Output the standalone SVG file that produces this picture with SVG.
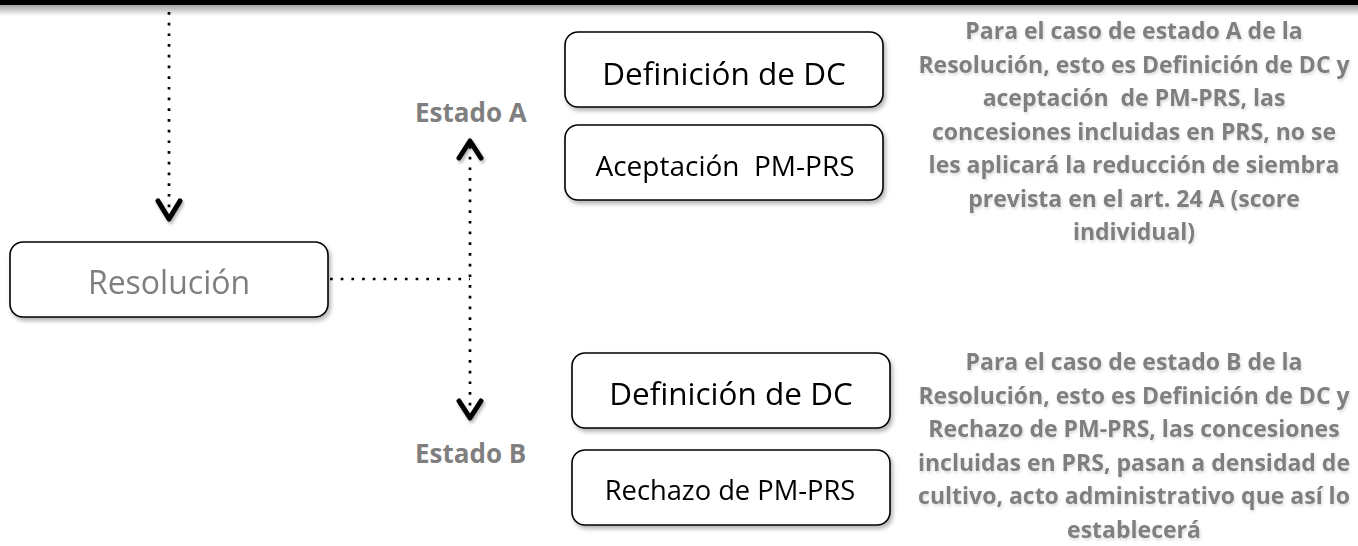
<svg xmlns="http://www.w3.org/2000/svg" width="1358" height="546" viewBox="0 0 1358 546">
<defs>
<filter id="sh" x="-10%" y="-20%" width="130%" height="160%">
<feDropShadow dx="2" dy="3" stdDeviation="2" flood-color="#000" flood-opacity="0.3"/>
</filter>
<filter id="tsh" x="-10%" y="-30%" width="130%" height="180%">
<feDropShadow dx="1.5" dy="2.5" stdDeviation="1.6" flood-color="#000" flood-opacity="0.3"/>
</filter>
<filter id="nsh" x="-5%" y="-10%" width="110%" height="120%">
<feDropShadow dx="1" dy="2" stdDeviation="1.5" flood-color="#000" flood-opacity="0.15"/>
</filter>
<linearGradient id="topg" x1="0" y1="0" x2="0" y2="1">
<stop offset="0" stop-color="#9a9a9a"/>
<stop offset="1" stop-color="#ffffff"/>
</linearGradient>
</defs>
<style>
.box{fill:#fff;stroke:#000;stroke-width:1.6;}
.bt{font-family:"Open Sans","DejaVu Sans",sans-serif;fill:#000;text-anchor:middle;white-space:pre;}
.gt{font-family:"Open Sans","DejaVu Sans",sans-serif;fill:#7f7f7f;}
.lbl{font-family:"Open Sans","DejaVu Sans",sans-serif;font-weight:bold;fill:#7f7f7f;font-size:26px;}
.note{font-family:"Open Sans","DejaVu Sans",sans-serif;font-weight:bold;fill:#7f7f7f;font-size:23px;text-anchor:middle;white-space:pre;}
.dot{fill:none;stroke:#000;stroke-width:2.7;stroke-dasharray:2.7 8;}
.arr{fill:none;stroke:#000;stroke-width:5;stroke-linecap:round;stroke-linejoin:round;}
</style>
<rect x="0" y="4" width="1358" height="12" fill="url(#topg)"/>
<rect x="0" y="0" width="1358" height="5" fill="#000"/>

<g id="connectors">
<line class="dot" x1="169" y1="12" x2="169" y2="214"/>
<polyline class="arr" points="158,201 169,219 180,201" filter="url(#tsh)"/>
<line class="dot" x1="330" y1="279" x2="470" y2="279"/>
<line class="dot" x1="470" y1="146" x2="470" y2="414"/>
<polyline class="arr" points="459,158 470,141 481,158" filter="url(#tsh)"/>
<polyline class="arr" points="459,401 470,418 481,401" filter="url(#tsh)"/>
</g>

<g id="resolucion" filter="url(#sh)">
<rect class="box" x="10" y="242" width="318" height="75" rx="13"/>
<text class="gt" x="169" y="294" font-size="32" text-anchor="middle">Resolución</text>
</g>

<g id="estadoA"><text class="lbl" x="415" y="122">Estado A</text></g>
<g id="estadoB"><text class="lbl" x="415" y="463">Estado B</text></g>

<g id="defA" filter="url(#sh)">
<rect class="box" x="565" y="32" width="318" height="75" rx="13"/>
<text class="bt" x="724" y="85" font-size="31.5">Definición de DC</text>
</g>
<g id="aceptacion" filter="url(#sh)">
<rect class="box" x="565" y="125" width="318" height="75" rx="13"/>
<text class="bt" x="725" y="176" font-size="28">Aceptación  PM-PRS</text>
</g>
<g id="defB" filter="url(#sh)">
<rect class="box" x="572" y="353" width="318" height="75" rx="13"/>
<text class="bt" x="731" y="405" font-size="31.5">Definición de DC</text>
</g>
<g id="rechazo" filter="url(#sh)">
<rect class="box" x="572" y="450" width="318" height="75" rx="13"/>
<text class="bt" x="730" y="500" font-size="27.3">Rechazo de PM-PRS</text>
</g>

<g id="notaA" filter="url(#nsh)">
<text class="note" x="1134" y="39">Para el caso de estado A de la</text>
<text class="note" x="1134" y="72.5">Resolución, esto es Definición de DC y</text>
<text class="note" x="1134" y="106">aceptación  de PM-PRS, las</text>
<text class="note" x="1134" y="139.5">concesiones incluidas en PRS, no se</text>
<text class="note" x="1134" y="173">les aplicará la reducción de siembra</text>
<text class="note" x="1134" y="206.5">prevista en el art. 24 A (score</text>
<text class="note" x="1134" y="240">individual)</text>
</g>
<g id="notaB" filter="url(#nsh)">
<text class="note" x="1134" y="370">Para el caso de estado B de la</text>
<text class="note" x="1134" y="403.5">Resolución, esto es Definición de DC y</text>
<text class="note" x="1134" y="437">Rechazo de PM-PRS, las concesiones</text>
<text class="note" x="1134" y="470.5">incluidas en PRS, pasan a densidad de</text>
<text class="note" x="1134" y="504">cultivo, acto administrativo que así lo</text>
<text class="note" x="1134" y="537.5">establecerá</text>
</g>
</svg>
